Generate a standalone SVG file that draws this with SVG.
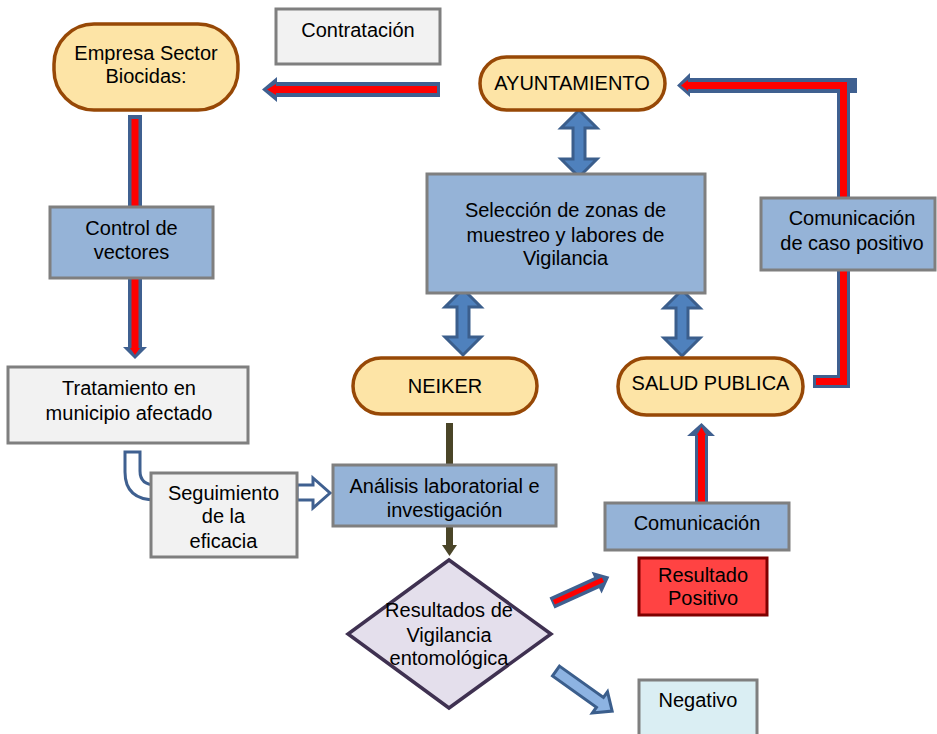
<svg xmlns="http://www.w3.org/2000/svg" width="937" height="734" viewBox="0 0 937 734">
<style>
text{font-family:"Liberation Sans",Arial,sans-serif;font-size:20px;fill:#000;text-anchor:middle}
.pill{fill:#fde4a6;stroke:#974806;stroke-width:3.5}
.gray{fill:#f2f2f2;stroke:#7f7f7f;stroke-width:3}
.blue{fill:#95b3d7;stroke:#7f7f7f;stroke-width:3}
.ra{fill:#3f6090}
.red{fill:none;stroke:#ff0000;stroke-width:7}
.redf{fill:#ff0000}
.dbl{fill:#4f81bd;stroke:#3b5e8c;stroke-width:3;stroke-linejoin:miter}
.hollow{fill:#fff;stroke:#3f6090;stroke-width:3}
</style>
<rect width="937" height="734" fill="#fff"/>
<g id="connectors">
  <!-- Contratación -> Empresa -->
  <polygon class="ra" points="440,82 277,82 277,77 262,89.5 277,102 277,97 440,97"/>
  <line class="red" x1="437" y1="89.5" x2="274" y2="89.5"/>
  <polygon class="redf" points="276,84 267,89.5 276,95"/>
  <!-- Comunicación de caso positivo L -> AYUNTAMIENTO -->
  <polygon class="ra" points="813,375 837,375 837,93 690,93 690,97 677,85.5 690,73 690,78 857,78 857,93 850,93 850,388 813,388"/>
  <polyline class="red" points="816,381.5 843.5,381.5 843.5,85.5 686,85.5" stroke-linejoin="miter"/>
  <polygon class="redf" points="688,80 681,85.5 688,91"/>
  <!-- Empresa -> Tratamiento -->
  <polygon class="ra" points="128,115 142,115 142,347 147,347 135,359 123,347 128,347"/>
  <line class="red" x1="135" y1="119" x2="135" y2="350"/>
  <polygon class="redf" points="130,348 140,348 135,355"/>
  <!-- Comunicación -> SALUD PUBLICA -->
  <polygon class="ra" points="695,502 695,436 687,436 701.5,423 715,436 708,436 708,502"/>
  <line class="red" x1="701.5" y1="502" x2="701.5" y2="433"/>
  <polygon class="redf" points="697,435 701.5,427 706,435"/>
  <!-- Double arrows -->
  <polygon class="dbl" points="579,110 597,128 585,128 585,159 597,159 579,177 561,159 573,159 573,128 561,128"/>
  <polygon class="dbl" points="463,289 481,307 469,307 469,337 481,337 463,355 445,337 457,337 457,307 445,307"/>
  <polygon class="dbl" points="682,290 700,308 688,308 688,338 700,338 682,356 664,338 676,338 676,308 664,308"/>
  <!-- Tratamiento -> Seguimiento (U) -->
  <path class="hollow" d="M125,452 L140,452 L140,471 Q140,485 156,485 L156,500 Q125,500 125,472 Z"/>
  <!-- Seguimiento -> Análisis -->
  <polygon class="hollow" points="297,485 313,485 313,478 330,493 313,508 313,500 297,500"/>
  <!-- NEIKER -> Análisis -> Diamond -->
  <line x1="449.5" y1="423" x2="449.5" y2="546" stroke="#4a4528" stroke-width="7"/>
  <polygon points="442,545 457,545 449.5,556" fill="#4a4528"/>
  <!-- Diamond -> Positivo -->
  <g transform="translate(552,603) rotate(-24.5)">
    <polygon class="ra" points="0,-6 49,-6 49,-12 63,0 49,12 49,6 0,6"/>
    <line x1="2" y1="0" x2="56" y2="0" stroke="#ff0000" stroke-width="5"/>
  </g>
  <!-- Diamond -> Negativo -->
  <g transform="translate(556,671) rotate(35.5)">
    <polygon points="0,-6 54,-6 54,-13 69,0 54,13 54,6 0,6" fill="#8db3e2" stroke="#3b5e8c" stroke-width="3"/>
  </g>
</g>
<g id="contratacion">
  <rect class="gray" x="276" y="9" width="164" height="55"/>
  <text x="358" y="37">Contratación</text>
</g>
<g id="empresa">
  <rect class="pill" x="54" y="24" width="184" height="86" rx="40" ry="40"/>
  <text x="146" y="60">Empresa Sector</text>
  <text x="146" y="83">Biocidas:</text>
</g>
<g id="ayuntamiento">
  <rect class="pill" x="480" y="57" width="185" height="53" rx="26.5" ry="26.5"/>
  <text x="572" y="90">AYUNTAMIENTO</text>
</g>
<g id="control">
  <rect class="blue" x="50" y="207" width="163" height="71"/>
  <text x="131.5" y="235">Control de</text>
  <text x="131.5" y="259">vectores</text>
</g>
<g id="tratamiento">
  <rect class="gray" x="8" y="367" width="240" height="76"/>
  <text x="129" y="395">Tratamiento en</text>
  <text x="129" y="420">municipio afectado</text>
</g>
<g id="seguimiento">
  <rect class="gray" x="151" y="473" width="146" height="84"/>
  <text x="223.5" y="500">Seguimiento</text>
  <text x="223.5" y="523">de la</text>
  <text x="223.5" y="548">eficacia</text>
</g>
<g id="seleccion">
  <rect class="blue" x="427" y="174" width="278" height="119"/>
  <text x="565.5" y="217">Selección de zonas de</text>
  <text x="565.5" y="242">muestreo y labores de</text>
  <text x="565.5" y="265">Vigilancia</text>
</g>
<g id="neiker">
  <rect class="pill" x="353" y="358" width="184" height="56" rx="28" ry="28"/>
  <text x="445" y="393">NEIKER</text>
</g>
<g id="salud">
  <rect class="pill" x="618" y="358" width="185" height="57" rx="28.5" ry="28.5"/>
  <text x="710.5" y="390">SALUD PUBLICA</text>
</g>
<g id="caso-positivo">
  <rect class="blue" x="761" y="198" width="174" height="72"/>
  <text x="852" y="225">Comunicación</text>
  <text x="852" y="250">de caso positivo</text>
</g>
<g id="analisis">
  <rect class="blue" x="333" y="465" width="223" height="61"/>
  <text x="444.5" y="493">Análisis laboratorial e</text>
  <text x="444.5" y="517">investigación</text>
</g>
<g id="comunicacion">
  <rect class="blue" x="605" y="503" width="184" height="47"/>
  <text x="697" y="530">Comunicación</text>
</g>
<g id="resultados">
  <polygon points="449,560 551,634 449,708 348,634" fill="#e4dfec" stroke="#3f3151" stroke-width="3.5" stroke-linejoin="miter"/>
  <text x="449" y="617">Resultados de</text>
  <text x="449" y="642">Vigilancia</text>
  <text x="449" y="665">entomológica</text>
</g>
<g id="positivo">
  <rect x="639" y="558" width="128" height="57" fill="#ff4343" stroke="#7f0000" stroke-width="3"/>
  <text x="703" y="582">Resultado</text>
  <text x="703" y="605">Positivo</text>
</g>
<g id="negativo">
  <rect x="639" y="680" width="118" height="64" fill="#daeef3" stroke="#7f7f7f" stroke-width="3"/>
  <text x="698" y="707">Negativo</text>
</g>
</svg>
